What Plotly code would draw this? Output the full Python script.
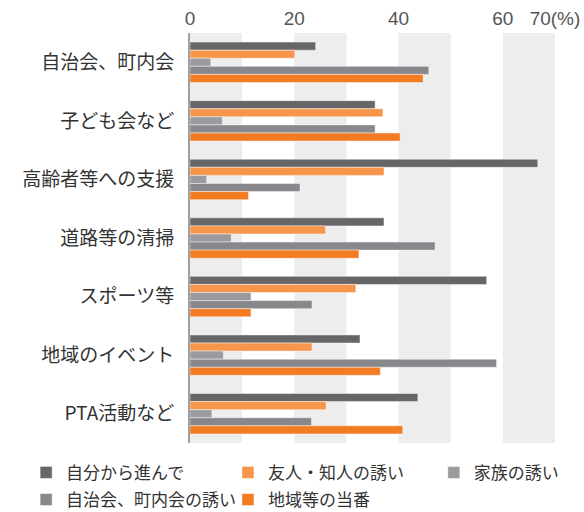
import plotly.graph_objects as go

categories = ["自治会、町内会", "子ども会など", "高齢者等への支援", "道路等の清掃",
              "スポーツ等", "地域のイベント", "PTA活動など"]
series_names = ["自分から進んで", "友人・知人の誘い", "家族の誘い", "自治会、町内会の誘い", "地域等の当番"]
self_motivated = [24.1, 35.5, 66.7, 37.2, 56.9, 32.6, 43.7]
friends = [20.1, 37.0, 37.2, 26.0, 31.8, 23.4, 26.1]
family = [4.0, 6.2, 3.2, 7.9, 11.7, 6.4, 4.2]
neighborhood = [45.8, 35.5, 21.1, 47.0, 23.4, 58.8, 23.3]
duty = [44.7, 40.3, 11.2, 32.4, 11.7, 36.5, 40.8]
series_values = [self_motivated, friends, family, neighborhood, duty]
colors = ["#666668", "#F7964B", "#9B9B9F", "#88888C", "#F37B21"]
# legend column for each series (two rows, three columns as in the reference)
legend_ids = ["legend", "legend2", "legend3", "legend", "legend2"]

tick_vals = [0, 20, 40, 60, 70]
tick_text = ["0", "20", "40", "60", "70(%)"]
band_starts = [0, 20, 40, 60]
band_width = 10

FONT = "Noto Sans CJK JP, Noto Sans, sans-serif"

fig = go.Figure()
for name, vals, col, lg in zip(series_names, series_values, colors, legend_ids):
    fig.add_trace(go.Bar(
        y=categories, x=vals, name=name, orientation="h",
        legend=lg, legendgroup=name,
        marker=dict(color=col, line=dict(color="rgba(255,255,255,0.45)", width=1)),
    ))

shapes = []
for b in band_starts:
    shapes.append(dict(type="rect", xref="x", yref="paper", x0=b, x1=b + band_width,
                       y0=0, y1=1, fillcolor="#EDEDED", line=dict(width=0), layer="below"))

legend_common = dict(orientation="v", xanchor="left", y=-0.029, yanchor="top",
                     traceorder="grouped", tracegroupgap=2,
                     font=dict(size=17, color="#333333"), itemclick=False,
                     bgcolor="rgba(0,0,0,0)")

fig.update_layout(
    width=584, height=512,
    margin=dict(l=190, r=29, t=33, b=69, autoexpand=False),
    paper_bgcolor="white", plot_bgcolor="white",
    barmode="group", bargap=0.31, bargroupgap=0,
    font=dict(family=FONT, color="#333333"),
    shapes=shapes,
    xaxis=dict(side="top", range=[0, 70], tickvals=tick_vals, ticktext=tick_text,
               showgrid=False, zeroline=False, showline=False, ticks="", automargin=False,
               tickfont=dict(family="Liberation Sans, Arial, sans-serif", size=19, color="#555555"),
               ticklabelstandoff=3),
    yaxis=dict(autorange="reversed", showgrid=False, zeroline=False, showline=True,
               linecolor="#A0A0A0", linewidth=2, ticks="", automargin=False,
               tickfont=dict(size=19, color="#333333"), ticklabelstandoff=10),
    legend=dict(x=-0.449, **legend_common),
    legend2=dict(x=0.104, **legend_common),
    legend3=dict(x=0.668, **legend_common),
    showlegend=True,
)

fig.write_html("out.html", config={"displayModeBar": False},
               post_script="document.body.style.margin='0';document.body.style.overflow='hidden';")
